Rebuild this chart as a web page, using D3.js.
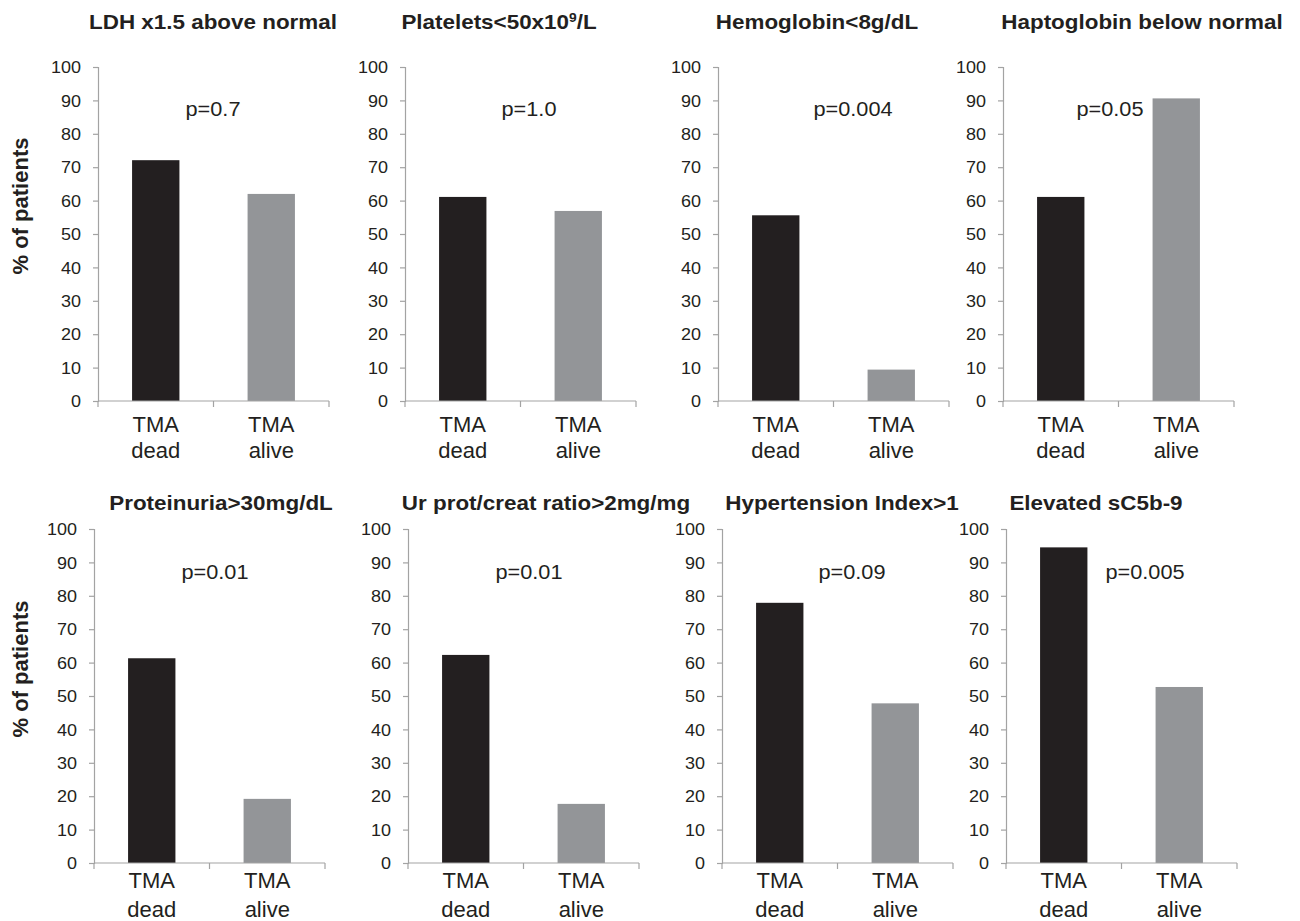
<!DOCTYPE html>
<html>
<head>
<meta charset="utf-8">
<script src="https://cdn.jsdelivr.net/npm/d3@7/dist/d3.min.js"></script>
<style>
  html, body { margin: 0; padding: 0; background: #ffffff; }
  svg { display: block; }
  text { font-family: "Liberation Sans", Arial, sans-serif; fill: #231f20; }
</style>
</head>
<body>
<svg id="chart" width="1300" height="921"></svg>
<script>
// ---------------- data ----------------
const panelTitles = [
  "LDH x1.5 above normal",
  "Platelets<50x10⁹/L",
  "Hemoglobin<8g/dL",
  "Haptoglobin below normal",
  "Proteinuria>30mg/dL",
  "Ur prot/creat ratio>2mg/mg",
  "Hypertension Index>1",
  "Elevated sC5b-9"
];
const pLabels = ["p=0.7", "p=1.0", "p=0.004", "p=0.05", "p=0.01", "p=0.01", "p=0.09", "p=0.005"];
const categories = ["dead", "alive"];
const categoryLines = [["TMA", "dead"], ["TMA", "alive"]];
const deadValues  = [72.1, 61.1, 55.6, 61.1, 61.3, 62.3, 77.9, 94.5];
const aliveValues = [62.0, 56.9, 9.4, 90.6, 19.2, 17.7, 47.8, 52.7];
const yTicks = [0, 10, 20, 30, 40, 50, 60, 70, 80, 90, 100];
const yAxisTitle = "% of patients";

// ---------------- layout ----------------
const axisLeft   = [98, 405, 718, 1003, 94, 408, 722, 1006];
const titleCx    = [213, 499, 817, 1142, 221, 546, 842, 1096];
const pOffset    = [115, 124, 135, 107, 121, 121, 130, 139];
const plotWidth  = 231;
const rows = [
  { top: 67,  bottom: 401, titleY: 29,  pY: 116, cat1: 31, cat2: 57, yTitleY: 206 },
  { top: 529, bottom: 863, titleY: 510, pY: 579, cat1: 25, cat2: 54, yTitleY: 669 }
];
const colors = { dead: "#231f20", alive: "#939598", axis: "#a3a3a3" };

const svg = d3.select("#chart");

panelTitles.forEach((title, i) => {
  const row = rows[Math.floor(i / 4)];
  const x0 = axisLeft[i];
  const g = svg.append("g");

  const y = d3.scaleLinear().domain([0, 100]).range([row.bottom, row.top]);
  const x = d3.scaleBand().domain(categories).range([x0, x0 + plotWidth])
              .paddingInner(0.59).paddingOuter(0.295);

  // bars
  const vals = [deadValues[i], aliveValues[i]];
  g.selectAll("rect.bar").data(categories).enter().append("rect")
    .attr("class", "bar")
    .attr("x", d => x(d))
    .attr("width", x.bandwidth())
    .attr("y", (d, k) => y(vals[k]))
    .attr("height", (d, k) => y(0) - y(vals[k]))
    .attr("fill", d => colors[d]);

  // y axis
  const yAxis = d3.axisLeft(y).tickValues(yTicks).tickSize(5).tickSizeOuter(5).tickFormat(d3.format("d"));
  const ya = g.append("g").attr("transform", `translate(${x0},0)`).call(yAxis);
  ya.select(".domain").attr("stroke", colors.axis).attr("stroke-width", 1.2);
  ya.selectAll(".tick line").attr("stroke", colors.axis).attr("stroke-width", 1.2);
  ya.selectAll(".tick text").remove();
  g.selectAll("text.ytick").data(yTicks).enter().append("text")
    .attr("class", "ytick")
    .attr("transform", d => `translate(${x0 - 17},${y(d)}) scale(1.06,1)`)
    .attr("text-anchor", "end")
    .attr("dy", "0.36em")
    .style("font-size", "17px")
    .text(d => d);

  // x axis
  const xTickPos = [x0, x0 + plotWidth / 2, x0 + plotWidth];
  g.append("line")
    .attr("x1", x0).attr("x2", x0 + plotWidth)
    .attr("y1", row.bottom).attr("y2", row.bottom)
    .attr("stroke", colors.axis).attr("stroke-width", 1.2);
  g.selectAll("line.xtick").data(xTickPos).enter().append("line")
    .attr("class", "xtick")
    .attr("x1", d => d).attr("x2", d => d)
    .attr("y1", row.bottom).attr("y2", row.bottom + 6)
    .attr("stroke", colors.axis).attr("stroke-width", 1.2);

  // category labels
  categories.forEach((c, k) => {
    const cx = x(c) + x.bandwidth() / 2;
    categoryLines[k].forEach((line, j) => {
      g.append("text")
        .attr("transform", `translate(${cx},${row.bottom + (j === 0 ? row.cat1 : row.cat2)})`)
        .attr("text-anchor", "middle")
        .style("font-size", "22px")
        .text(line);
    });
  });

  // p-value label
  g.append("text")
    .attr("transform", `translate(${x0 + pOffset[i]},${row.pY}) scale(1.06,1)`)
    .attr("text-anchor", "middle")
    .style("font-size", "20.5px")
    .text(pLabels[i]);

  // title
  const t = g.append("text")
    .attr("transform", `translate(${titleCx[i]},${row.titleY}) scale(1.15,1)`)
    .attr("text-anchor", "middle")
    .style("font-size", "19.5px")
    .style("font-weight", "bold");
  if (title.includes("⁹")) {
    const parts = title.split("⁹");
    t.append("tspan").text(parts[0]);
    t.append("tspan").attr("dy", -7).style("font-size", "12px").text("9");
    t.append("tspan").attr("dy", 7).text(parts[1]);
  } else {
    t.text(title);
  }

  // y-axis title on first column only
  if (i % 4 === 0) {
    svg.append("text")
      .attr("transform", `translate(28,${row.yTitleY}) rotate(-90)`)
      .attr("text-anchor", "middle")
      .style("font-size", "22px")
      .style("font-weight", "bold")
      .text(yAxisTitle);
  }
});
</script>
</body>
</html>
